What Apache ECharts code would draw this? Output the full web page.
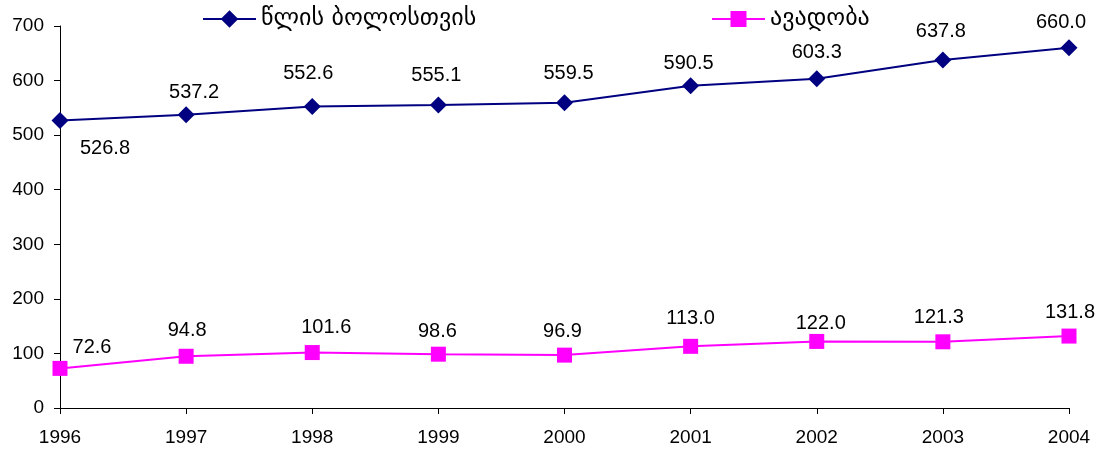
<!DOCTYPE html>
<html><head><meta charset="utf-8">
<script src="https://cdn.jsdelivr.net/npm/echarts@6/dist/echarts.min.js"></script>
<style>html,body{margin:0;padding:0;background:#fff}#c{width:1099px;height:453px}</style>
</head><body><div id="c"></div>
<script>
const years = ['1996','1997','1998','1999','2000','2001','2002','2003','2004'];
const yearEnd = [526.8, 537.2, 552.6, 555.1, 559.5, 590.5, 603.3, 637.8, 660.0];
const morbidity = [72.6, 94.8, 101.6, 98.6, 96.9, 113.0, 122.0, 121.3, 131.8];
const seriesNames = ['წლის ბოლოსთვის', 'ავადობა'];
// label offsets (pixels from the point) — styling only
const yearEndLabelOffsets = [[45,28],[8,-22],[-4,-33],[-2,-30],[4,-29],[-2,-22],[0,-26],[-2,-28],[-8,-25]];
const morbLabelOffsets = [[32,-21],[1,-26],[14,-25],[-1,-23],[-2,-24],[0,-28],[4,-18],[-4,-24],[1,-24]];

const chart = echarts.init(document.getElementById('c'));
const lblFont = {fontFamily:'Liberation Sans, Arial, sans-serif', fontSize:20, color:'#000'};
function fmt(p){ return p.value.toFixed(1); }
const legendText = {fontFamily:'DejaVu Sans, sans-serif', fontSize:24, color:'#000'};
function withLabels(vals, offs){
  return vals.map((v,i)=>({value:v, label:{offset:offs[i]}}));
}
chart.setOption({
  animation:false,
  grid:{left:60, right:30, top:26, bottom:45},
  legend:[
    {top:7, left:202, padding:0, itemWidth:53, itemHeight:22, textStyle:legendText, data:[seriesNames[0]]},
    {top:7, left:711, padding:0, itemWidth:53, itemHeight:20, textStyle:legendText, data:[seriesNames[1]]}
  ],
  xAxis:{
    type:'category', data:years, boundaryGap:false,
    axisLine:{lineStyle:{color:'#000'}},
    axisTick:{show:true, length:6, lineStyle:{color:'#000'}},
    axisLabel:{margin:20, fontFamily:'Liberation Sans, Arial, sans-serif', fontSize:19, color:'#000'}
  },
  yAxis:{
    type:'value', min:0, max:700, interval:100,
    axisLine:{show:true, lineStyle:{color:'#000'}},
    axisTick:{show:true, length:6, lineStyle:{color:'#000'}},
    splitLine:{show:false},
    axisLabel:{margin:16, fontFamily:'Liberation Sans, Arial, sans-serif', fontSize:19, color:'#000'}
  },
  series:[
    {
      name:seriesNames[0], type:'line',
      data:withLabels(yearEnd, yearEndLabelOffsets),
      symbol:'diamond', symbolSize:17,
      lineStyle:{color:'#000080', width:2}, itemStyle:{color:'#000080'},
      label:Object.assign({show:true, position:'inside', formatter:fmt}, lblFont)
    },
    {
      name:seriesNames[1], type:'line',
      data:withLabels(morbidity, morbLabelOffsets),
      symbol:'rect', symbolSize:15,
      lineStyle:{color:'#FF00FF', width:2}, itemStyle:{color:'#FF00FF'},
      label:Object.assign({show:true, position:'inside', formatter:fmt}, lblFont)
    }
  ]
});
</script></body></html>
